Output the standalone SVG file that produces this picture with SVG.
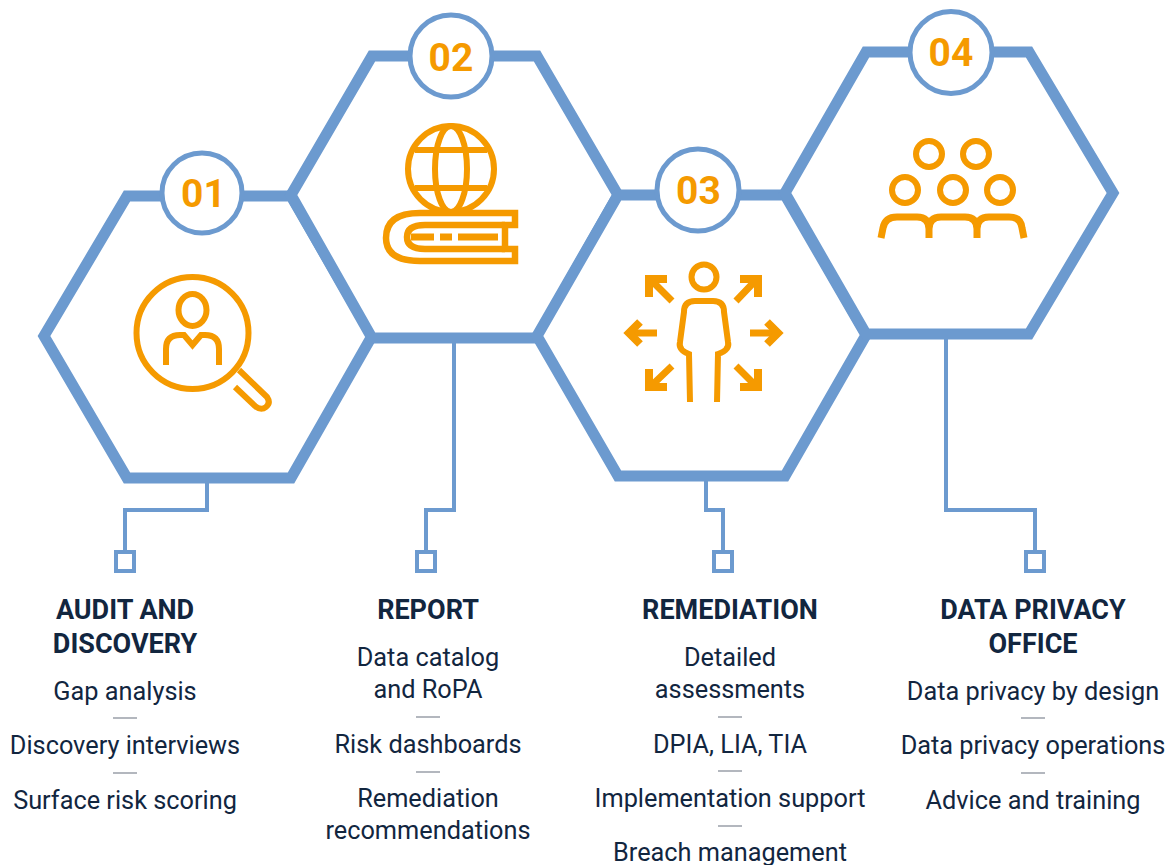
<svg xmlns="http://www.w3.org/2000/svg" width="1174" height="865" viewBox="0 0 1174 865">
<style>
.hex{fill:#fff;stroke:#6c9acf;stroke-width:11;stroke-linejoin:miter}
.num{fill:#fff;stroke:#6c9acf;stroke-width:5}
.n{font:700 39px Roboto,sans-serif;fill:#f59a00;text-anchor:middle}
.c{fill:none;stroke:#6c9acf;stroke-width:4}
.sq{fill:#fff;stroke:#6c9acf;stroke-width:4}
.i{fill:none;stroke:#f59a00;stroke-width:6}
.h{font:700 27px Roboto,sans-serif;fill:#12263f;text-anchor:middle}
.b{font:400 25.300px Roboto,sans-serif;fill:#12263f;text-anchor:middle}
.d{stroke:#9a9fa8;stroke-width:1.500}
</style>
<g id="connectors">
<path class="c" d="M207 478V510H125V552"/>
<path class="c" d="M454 338V510H426V552"/>
<path class="c" d="M706 476V510H723V552"/>
<path class="c" d="M946 334V510H1035V552"/>
</g>
<g id="node-01">
<polygon class="hex" points="44,336 127,196 291,196 372,336 291,478 127,478"/>
<circle class="num" cx="202" cy="193" r="40"/>
<text class="n" x="203.500" y="207">01</text>
<g class="i">
<circle cx="192.500" cy="333" r="56"/>
<ellipse cx="192.500" cy="310" rx="14" ry="16"/>
<path d="M166 365V349Q166 335 180 335H184L192.500 345L201 335H205Q219 335 219 349V365"/>
<path d="M239 370L267 397Q271 403 266 407Q261 411 255 406L235 387"/>
</g>
<rect class="sq" x="116" y="552" width="18" height="19"/>
<text class="h"><tspan x="125" y="619">AUDIT AND</tspan><tspan x="125" y="653">DISCOVERY</tspan></text>
<text class="b" x="125" y="700">Gap analysis</text>
<path class="d" d="M113 718H137"/>
<text class="b" x="125" y="754">Discovery interviews</text>
<path class="d" d="M113 773H137"/>
<text class="b" x="125" y="809">Surface risk scoring</text>
</g>
<g id="node-02">
<polygon class="hex" points="291,195 372,56 537,56 618,195 537,338 372,338"/>
<circle class="num" cx="451" cy="56" r="41"/>
<text class="n" x="451" y="71">02</text>
<g class="i">
<circle cx="451" cy="169" r="43"/>
<ellipse cx="451" cy="169" rx="16" ry="43"/>
<path d="M415 150H487M415 188H487"/>
<path stroke-width="6.500" d="M515 213H420Q386 213 386 238Q386 261 420 261H515V249H505V225H515Z"/>
<path stroke-width="6.500" d="M505 225H425Q407 225 407 237Q407 249 425 249H505"/>
<path d="M411 237H434M440 237H452M458 237H498" stroke-width="7"/>
</g>
<rect class="sq" x="417" y="552" width="18" height="19"/>
<text class="h" x="428" y="619">REPORT</text>
<text class="b"><tspan x="428" y="666">Data catalog</tspan><tspan x="428" y="698">and RoPA</tspan></text>
<path class="d" d="M416 717H440"/>
<text class="b" x="428" y="753">Risk dashboards</text>
<path class="d" d="M416 772H440"/>
<text class="b"><tspan x="428" y="807">Remediation</tspan><tspan x="428" y="839">recommendations</tspan></text>
</g>
<g id="node-03">
<polygon class="hex" points="537,336 618,195 785,195 866,335 785,476 618,476"/>
<circle class="num" cx="698" cy="190" r="41"/>
<text class="n" x="698.500" y="204">03</text>
<g class="i">
<circle cx="704" cy="277" r="12.500"/>
<path d="M690 402L689 354Q678 350 680 342L684 312Q684 301 695 301H713Q724 301 724 312L728 342Q730 350 718 354L717 402"/>
<path stroke-width="7" d="M672 301L650 279M736 301L757 279M657 333H630M750 333H777M672 366L650 387M736 366L757 387"/>
<path stroke-width="8" d="M649 297V279H667M740 279H758V297M640 322L629 333L640 344M767 322L778 333L767 344M649 369V387H667M740 387H758V369"/>
</g>
<rect class="sq" x="714" y="552" width="18" height="19"/>
<text class="h" x="730" y="619">REMEDIATION</text>
<text class="b"><tspan x="730" y="666">Detailed</tspan><tspan x="730" y="698">assessments</tspan></text>
<path class="d" d="M718 717H742"/>
<text class="b" x="730" y="753">DPIA, LIA, TIA</text>
<path class="d" d="M718 771H742"/>
<text class="b" x="730" y="807">Implementation support</text>
<path class="d" d="M718 826H742"/>
<text class="b" x="730" y="861">Breach management</text>
</g>
<g id="node-04">
<polygon class="hex" points="785,193 866,52 1029,52 1113,193 1029,334 866,334"/>
<circle class="num" cx="951" cy="52.500" r="41"/>
<text class="n" x="951" y="66">04</text>
<g class="i">
<circle cx="929" cy="154" r="13"/><circle cx="976" cy="154" r="13"/>
<circle cx="905" cy="190" r="13"/><circle cx="953" cy="190" r="13"/><circle cx="1000" cy="190" r="13"/>
<path stroke-width="7" d="M881 238L883 228Q885 217 897 217H917Q929 217 929 229V238M929 238V229Q929 217 941 217H965Q977 217 977 229V238M977 238V229Q977 217 989 217H1009Q1021 217 1022 228L1024 238"/>
</g>
<rect class="sq" x="1026" y="552" width="18" height="19"/>
<text class="h"><tspan x="1033" y="619">DATA PRIVACY</tspan><tspan x="1033" y="653">OFFICE</tspan></text>
<text class="b" x="1033" y="700">Data privacy by design</text>
<path class="d" d="M1021 718H1045"/>
<text class="b" x="1033" y="754">Data privacy operations</text>
<path class="d" d="M1021 773H1045"/>
<text class="b" x="1033" y="809">Advice and training</text>
</g>
</svg>
